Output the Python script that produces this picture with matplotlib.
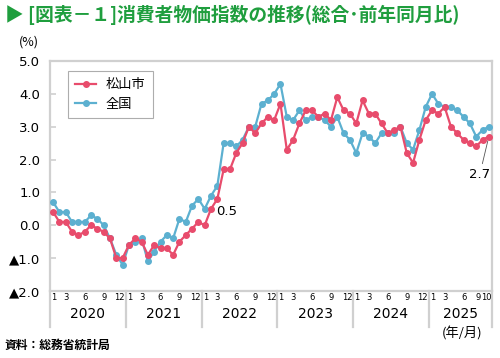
import numpy as np
import matplotlib.pyplot as plt
import matplotlib.transforms as mtransforms

plt.rcParams['font.family'] = ['Noto Sans CJK JP', 'DejaVu Sans']

# 前年同月比 (%), 2020年1月〜2025年10月
years = [2020, 2021, 2022, 2023, 2024, 2025]
matsuyama = [
    0.4, 0.1, 0.1, -0.2, -0.3, -0.2, 0.0, -0.1, -0.2, -0.4, -1.0, -1.0,
    -0.6, -0.4, -0.5, -0.9, -0.6, -0.7, -0.7, -0.9, -0.5, -0.3, -0.1, 0.1,
    0.0, 0.5, 0.8, 1.7, 1.7, 2.2, 2.5, 3.0, 2.8, 3.1, 3.3, 3.2,
    3.7, 2.3, 2.6, 3.1, 3.5, 3.5, 3.3, 3.4, 3.2, 3.9, 3.5, 3.4,
    3.1, 3.8, 3.4, 3.4, 3.1, 2.8, 2.9, 3.0, 2.2, 1.9, 2.6, 3.2,
    3.5, 3.4, 3.6, 3.0, 2.8, 2.6, 2.5, 2.4, 2.6, 2.7,
]
zenkoku = [
    0.7, 0.4, 0.4, 0.1, 0.1, 0.1, 0.3, 0.2, 0.0, -0.4, -0.9, -1.2,
    -0.6, -0.5, -0.4, -1.1, -0.8, -0.5, -0.3, -0.4, 0.2, 0.1, 0.6, 0.8,
    0.5, 0.9, 1.2, 2.5, 2.5, 2.4, 2.6, 3.0, 3.0, 3.7, 3.8, 4.0,
    4.3, 3.3, 3.2, 3.5, 3.2, 3.3, 3.3, 3.2, 3.0, 3.3, 2.8, 2.6,
    2.2, 2.8, 2.7, 2.5, 2.8, 2.8, 2.8, 3.0, 2.5, 2.3, 2.9, 3.6,
    4.0, 3.7, 3.6, 3.6, 3.5, 3.3, 3.1, 2.7, 2.9, 3.0,
]
month_ticks = [1, 3, 6, 9, 12]
last_month_ticks = [1, 3, 6, 9, 10]
y_ticks = [5.0, 4.0, 3.0, 2.0, 1.0, 0.0, -1.0, -2.0]
y_tick_labels = ['5.0', '4.0', '3.0', '2.0', '1.0', '0.0', '▲1.0', '▲2.0']

RED = '#e84c6c'
BLUE = '#5cb0d0'
LINE = '#d0d0d0'
GREEN = '#1f9e3e'

fig = plt.figure(figsize=(5, 3.58), dpi=100)
ax = fig.add_axes([0.1, 0.1872, 0.884, 0.6424])

n = len(matsuyama)
x = np.arange(n)
ax.plot(x, zenkoku, color=BLUE, lw=1.6, marker='o', ms=4, label='全国', zorder=3)
ax.plot(x, matsuyama, color=RED, lw=1.6, marker='o', ms=4, label='松山市', zorder=4)

ax.set_xlim(-0.5, n - 0.5)
ax.set_ylim(-2.0, 5.0)
ax.set_yticks(y_ticks)
ax.set_yticklabels(y_tick_labels, family='DejaVu Sans')
ax.set_xticks([])

ax.tick_params(axis='y', direction='in', length=4, width=1.2, color=LINE, pad=7, labelsize=9.5)

for s in ax.spines.values():
    s.set_color(LINE)
    s.set_linewidth(1.6)

trans = mtransforms.blended_transform_factory(ax.transData, ax.transAxes)

# month labels: keep "12|1" and "9 10" apart from the year separators
for k, yr in enumerate(years):
    months = last_month_ticks if yr == years[-1] else month_ticks
    for m in months:
        p = 12 * k + m - 1
        ha = 'center'
        if m == 12:
            p, ha = 12 * k + 11.35, 'right'
        elif m == 1:
            p, ha = 12 * k - 0.3, 'left'
        elif yr == years[-1] and m == months[-1]:
            p, ha = n - 0.62, 'right'
        elif yr == years[-1] and m == months[-2]:
            p, ha = n - 2.3, 'right'
        ax.text(p, -0.03, str(m), transform=trans, ha=ha, va='center',
                fontsize=6, family='DejaVu Sans')

for k in range(len(years) + 1):
    xs = min(12 * k, n) - 0.5
    ax.plot([xs, xs], [0, -0.157], color=LINE, lw=1.6, transform=trans, clip_on=False)

for k, yr in enumerate(years):
    end = min(12 * (k + 1), n)
    xc = (12 * k - 0.5 + end - 0.5) / 2
    ax.text(xc, -0.1, str(yr), transform=trans, ha='center', va='center',
            fontsize=10, family='DejaVu Sans')

handles, labels = ax.get_legend_handles_labels()
leg = ax.legend(handles[::-1], labels[::-1], loc='upper left', bbox_to_anchor=(0.041, 0.957),
                borderaxespad=0, fontsize=9.5, frameon=True, fancybox=False, handlelength=1.6,
                borderpad=0.55, labelspacing=0.5, handletextpad=0.7)
leg.get_frame().set_edgecolor('#999999')
leg.get_frame().set_linewidth(0.8)

ax.annotate('0.5', xy=(25, matsuyama[25]), xytext=(3.6, -2.2), textcoords='offset points',
            ha='left', va='center', fontsize=9.5, family='DejaVu Sans')
ax.annotate('2.7', xy=(69, matsuyama[69]), xytext=(-6.5, -22.5), textcoords='offset points',
            ha='center', va='top', fontsize=9.5, family='DejaVu Sans',
            arrowprops=dict(arrowstyle='-', color='#555555', lw=0.6, shrinkA=1, shrinkB=3))

fig.text(5 / 500, 1 - 15 / 358, '▶ [図表－１]消費者物価指数の推移(総合･前年同月比)',
         color=GREEN, fontsize=13.5, fontweight='bold', ha='left', va='center')
fig.text(29 / 500, 1 - 42 / 358, '(%)', fontsize=9, ha='center', va='center')
fig.text(462 / 500, 1 - 333 / 358, '(年/月)', fontsize=9.5, ha='center', va='center')
fig.text(5 / 500, 1 - 345 / 358, '資料：総務省統計局', fontsize=8.5, fontweight='bold',
         ha='left', va='center')

fig.savefig('out.png', dpi=100)
